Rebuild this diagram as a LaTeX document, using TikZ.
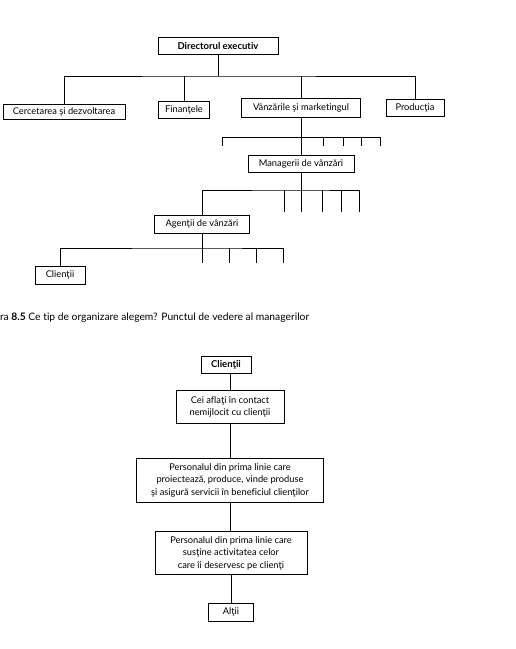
\documentclass[tikz,border=0pt]{standalone}
\usepackage{fontspec}
\setmainfont{Lato}[Ligatures=NoCommon]
\begin{document}
\begin{tikzpicture}[x=1pt,y=-1pt,
  every node/.style={inner sep=0pt, outer sep=0pt},
  box/.style={draw, line width=0.7pt, align=center, font=\fontsize{9.3}{12.5}\selectfont, minimum width=#1},
  box/.default=40pt,
  bbox/.style={box=#1, font=\fontsize{9.5}{12}\selectfont\bfseries},
  ln/.style={line width=0.7pt}]
\useasboundingbox (0,0) rectangle (515,649);
% top chart
\node[bbox=120pt, minimum height=17pt] (dir) at (218,46) {Directorul executiv};
\node[box=122pt, minimum height=15pt] (cerc) at (64,112) {Cercetarea şi dezvoltarea};
\node[box=51pt, minimum height=17pt] (fin) at (184,110) {Finanţele};
\node[box=119pt, minimum height=19pt] (vanz) at (301,108) {Vânzările şi marketingul};
\node[box=58pt, minimum height=17pt] (prod) at (415,108) {Producţia};
\coordinate (b1) at (218,76);
\draw[ln] (dir.south) -- (b1);
\draw[ln] (cerc.north) |- (b1) -| (prod.north);
\draw[ln] (fin.north) -- (fin.north |- b1);
\draw[ln] (vanz.north) -- (vanz.north |- b1);

\node[box=106pt, minimum height=17pt] (mgr) at (301,164) {Managerii de vânzări};
\draw[ln] (vanz.south) -- (mgr.north);
\coordinate (b2l) at (222,137); \coordinate (b2r) at (380,137);
\draw[ln] (222,146) -- (b2l) -- (b2r) -- (380,146);
\foreach \x in {323,343,361} \draw[ln] (\x,137) -- (\x,146);

\node[box=95pt, minimum height=18pt] (agent) at (202,224) {Agenţii de vânzări};
\coordinate (b3) at (301,190);
\draw[ln] (mgr.south) -- (301,212);
\draw[ln] (agent.north) |- (b3) -- (359,190) -- (359,212);
\foreach \x in {284,322,341} \draw[ln] (\x,190) -- (\x,212);

\node[box=50pt, minimum height=18pt] (cl1) at (60,275) {Clienţii};
\coordinate (b4) at (202,248);
\draw[ln] (agent.south) -- (202,263);
\draw[ln] (cl1.north) |- (b4) -- (283,248) -- (283,263);
\foreach \x in {229,256} \draw[ln] (\x,248) -- (\x,263);

% caption
\node[anchor=west, font=\fontsize{10.3}{12}\selectfont] (cap) at (0,318) {ra \textbf{8.5} Ce tip de organizare alegem? Punctul de vedere al managerilor};

% bottom chart
\node[bbox=50pt, minimum height=17pt] (c2) at (226,365) {Clienţii};
\node[box=108pt, minimum height=33pt] (cei) at (230,407) {Cei aflaţi în contact\\nemijlocit cu clienţii};
\node[box=187pt, minimum height=44pt] (p1) at (230,480) {Personalul din prima linie care\\proiectează, produce, vinde produse\\şi asigură servicii în beneficiul clienţilor};
\node[box=152pt, minimum height=43pt] (p2) at (231,553) {Personalul din prima linie care\\susţine activitatea celor\\care îi deservesc pe clienţi};
\node[box=45pt, minimum height=18pt] (alti) at (231,612) {Alţii};
\draw[ln] (cei.north) -- (cei.north |- c2.south);
\draw[ln] (cei.south) -- (cei.south |- p1.north);
\draw[ln] (p1.south) -- (p1.south |- p2.north);
\draw[ln] (p2.south) -- (alti.north);
\end{tikzpicture}
\end{document}
